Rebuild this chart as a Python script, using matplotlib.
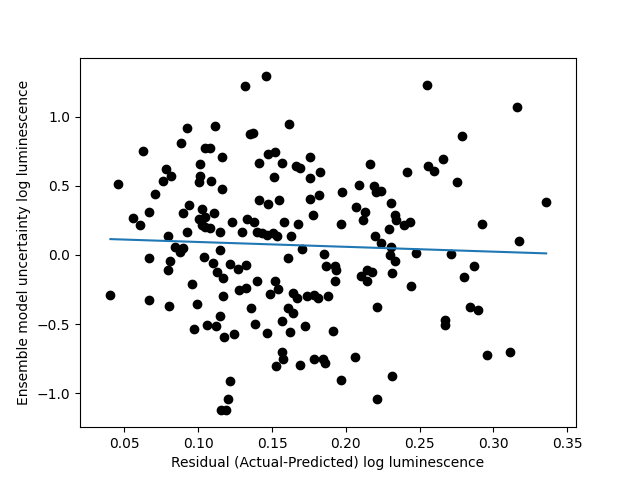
import matplotlib
matplotlib.use("Agg")
import matplotlib.pyplot as plt
import numpy as np

residual = [
    0.0405, 0.0459, 0.0556, 0.0604, 0.0624, 0.0665, 0.0665, 0.0665, 0.0706, 0.0761,
    0.0779, 0.0815, 0.0795, 0.0806, 0.0795, 0.0799, 0.0840, 0.0897, 0.0874, 0.0881,
    0.0926, 0.0897, 0.0937, 0.0926, 0.0958,
    0.1316, 0.1112, 0.1350, 0.1369, 0.1049, 0.1083, 0.1162, 0.1412, 0.1010, 0.1010,
    0.1003, 0.1085, 0.1158, 0.1412, 0.1026, 0.1108, 0.1003, 0.1044, 0.1026, 0.1049,
    0.1078, 0.1226, 0.1328, 0.1380, 0.1294, 0.1396, 0.1430, 0.1464, 0.1146, 0.1146,
    0.1040,
    0.1100, 0.1214, 0.1270, 0.1323, 0.1124, 0.1169, 0.1400, 0.1277, 0.1323, 0.1169,
    0.0991, 0.1359, 0.1146, 0.0971, 0.1058, 0.1121, 0.1176, 0.1241, 0.1384, 0.1216,
    0.1203, 0.1153, 0.1185,
    0.1459, 0.1616, 0.1475, 0.1520, 0.1570, 0.1663, 0.1686, 0.1760, 0.1516, 0.1760,
    0.1822, 0.1976, 0.1471, 0.1550, 0.1754, 0.1815, 0.1777, 0.1580, 0.1675, 0.1965,
    0.1505, 0.1532, 0.1631, 0.1706,
    0.1611, 0.1849, 0.1863, 0.1924, 0.1935, 0.1929, 0.1522, 0.1543, 0.1486, 0.1641,
    0.1668, 0.1738, 0.1781, 0.1808, 0.1876, 0.1607, 0.1645, 0.1570, 0.1724, 0.1464,
    0.1622, 0.1910, 0.1570, 0.1577, 0.1527, 0.1686, 0.1781, 0.1842, 0.1856, 0.1969,
    0.2550, 0.2659, 0.2162, 0.2414, 0.2559, 0.2597, 0.2087, 0.2189, 0.2203, 0.2235,
    0.2303, 0.2071, 0.2133, 0.2114, 0.2332, 0.2337, 0.2393, 0.2432, 0.2291, 0.2196,
    0.2237, 0.2305, 0.2296, 0.2332, 0.2475, 0.2713, 0.2140, 0.2176, 0.2101, 0.2140,
    0.2312, 0.2441, 0.2210, 0.2672, 0.2672, 0.2060, 0.2312, 0.2210,
    0.3160, 0.2786, 0.2756, 0.3357, 0.2922, 0.3176, 0.2870, 0.2800, 0.2840, 0.2897,
    0.2958, 0.3114,
]

uncertainty = [
    -0.292, 0.512, 0.266, 0.217, 0.754, 0.309, -0.024, -0.328, 0.440, 0.534,
    0.621, 0.570, 0.138, -0.043, -0.111, -0.372, 0.060, 0.049, 0.024, 0.809,
    0.918, 0.302, 0.360, 0.164, -0.213,
    1.225, 0.930, 0.875, 0.886, 0.773, 0.773, 0.708, 0.664, 0.657, 0.572,
    0.531, 0.536, 0.478, 0.399, 0.336, 0.302, 0.259, 0.273, 0.217, 0.205,
    0.193, 0.242, 0.259, 0.242, 0.169, 0.169, 0.162, 0.145, 0.164, 0.036,
    -0.017,
    -0.060, -0.065, -0.104, -0.072, -0.121, -0.169, -0.188, -0.254, -0.237, -0.295,
    -0.357, -0.384, -0.442, -0.536, -0.507, -0.514, -0.596, -0.572, -0.500, -0.913,
    -1.043, -1.118, -1.118,
    1.297, 0.949, 0.730, 0.744, 0.664, 0.645, 0.628, 0.708, 0.563, 0.556,
    0.599, 0.454, 0.367, 0.396, 0.404, 0.433, 0.290, 0.242, 0.225, 0.225,
    0.162, 0.138, 0.138, 0.041,
    -0.024, 0.005, -0.082, -0.082, -0.106, -0.190, -0.188, -0.249, -0.285, -0.275,
    -0.314, -0.297, -0.292, -0.314, -0.299, -0.386, -0.423, -0.478, -0.514, -0.567,
    -0.560, -0.551, -0.703, -0.749, -0.804, -0.797, -0.754, -0.754, -0.778, -0.906,
    1.232, 0.696, 0.657, 0.599, 0.645, 0.606, 0.505, 0.500, 0.457, 0.462,
    0.375, 0.348, 0.312, 0.251, 0.290, 0.254, 0.217, 0.239, 0.186, 0.140,
    0.089, 0.056, 0.000, -0.043, 0.012, 0.005, -0.111, -0.121, -0.152, -0.186,
    -0.133, -0.227, -0.379, -0.471, -0.510, -0.739, -0.877, -1.039,
    1.070, 0.860, 0.527, 0.382, 0.225, 0.099, -0.082, -0.162, -0.377, -0.400,
    -0.725, -0.705,
]

fit_slope = -0.35
fit_intercept = 0.129

x = np.array(residual)
y = np.array(uncertainty)

fig, ax = plt.subplots(figsize=(6.4, 4.8), dpi=100)
ax.scatter(x, y, c="k")
xs = np.array([x.min(), x.max()])
ax.plot(xs, fit_slope * xs + fit_intercept, color="C0")
ax.set_xlim(0.0199, 0.3559)
ax.set_ylim(-1.246, 1.428)
ax.set_xlabel("Residual (Actual-Predicted) log luminescence")
ax.set_ylabel("Ensemble model uncertainty log luminescence")
fig.savefig("out.png", dpi=100)
